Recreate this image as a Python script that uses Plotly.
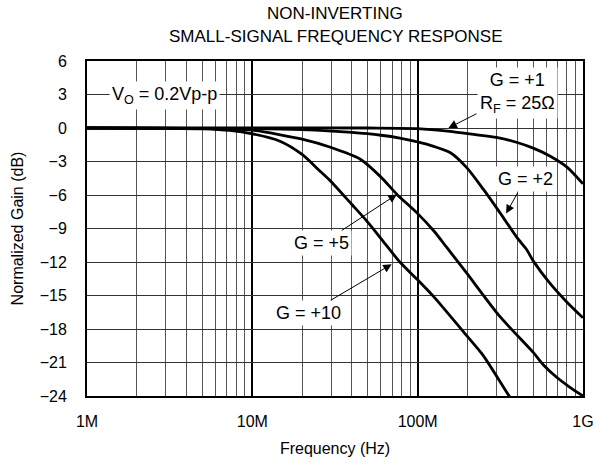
import math
import plotly.graph_objects as go

# ---- data (frequency in MHz, normalized gain in dB) ----
freq_g1_mhz = [1, 10, 50, 100, 157, 200, 315, 400, 500, 630, 800, 1000]
gain_g1_db = [0, 0, 0, -0.05, -0.3, -0.5, -0.9, -1.3, -1.8, -2.5, -3.5, -5.0]

freq_g2_mhz = [1, 10, 20, 40, 60, 78, 100, 125, 157, 198, 250, 315, 398, 457, 500, 630, 800, 1000]
gain_g2_db = [0, -0.05, -0.15, -0.4, -0.65, -0.9, -1.25, -1.65, -2.2, -3.55, -5.5, -7.6, -9.8, -10.9, -11.9, -13.9, -15.6, -17.0]

freq_g5_mhz = [1, 3, 5, 10, 20, 30, 45, 60, 75, 99, 125, 150, 198, 315, 500, 575, 690, 830, 1000]
gain_g5_db = [0, -0.02, -0.05, -0.2, -1.0, -1.75, -2.8, -4.4, -5.95, -7.6, -9.2, -10.7, -13.0, -16.9, -20.1, -21.2, -22.3, -23.2, -24.0]

freq_g10_mhz = [1, 3, 5, 7.3, 10, 14.7, 20, 25.7, 29.8, 40, 49, 60, 78, 100, 125, 198, 250, 354, 400]
gain_g10_db = [0, -0.03, -0.08, -0.22, -0.52, -1.18, -2.37, -3.87, -4.76, -6.85, -8.3, -9.9, -12.0, -13.6, -15.1, -18.6, -20.4, -23.9, -25.0]

x_tick_vals_hz = [1e6, 1e7, 1e8, 1e9]
x_tick_text = ["1M", "10M", "100M", "1G"]
y_range_db = [-24, 6]
y_step_db = 3

title_lines = ["NON-INVERTING", "SMALL-SIGNAL FREQUENCY RESPONSE"]
x_title = "Frequency (Hz)"
y_title = "Normalized Gain (dB)"

FONT = "Liberation Sans, Arial, Helvetica, sans-serif"
W, H = 597, 466
ML, MR, MT, MB = 87, 14, 61, 70
PLOT_H = H - MT - MB

fig = go.Figure()
for f, g in [(freq_g1_mhz, gain_g1_db), (freq_g2_mhz, gain_g2_db),
             (freq_g5_mhz, gain_g5_db), (freq_g10_mhz, gain_g10_db)]:
    fig.add_trace(go.Scatter(
        x=[v * 1e6 for v in f], y=g, mode="lines",
        line=dict(color="black", width=2.8, shape="spline", smoothing=0.7),
        showlegend=False, hoverinfo="skip"))

L = math.log10

def label(x_hz, y_db, text, tip=None):
    kw = dict(showarrow=False)
    if tip is not None:
        tx, ty, ax, ay = tip
        kw = dict(showarrow=True, ax=ax, ay=ay, arrowhead=2, arrowsize=1.7,
                  arrowwidth=1, arrowcolor="black", standoff=0, startstandoff=1)
        x_hz, y_db = tx, ty
    fig.add_annotation(x=L(x_hz), y=y_db, xref="x", yref="y", text=text,
                       bgcolor="white", borderpad=2,
                       font=dict(family=FONT, size=18, color="black"), **kw)

label(10 ** 6.47, 2.9, "V<sub>O</sub> = 0.2Vp-p")
label(None, None, "G = +1<br>R<sub>F</sub> = 25Ω", tip=(10 ** 8.186, 0.0, 69, -35))
label(None, None, "G = +2", tip=(10 ** 8.535, -7.65, 19, -34))
label(None, None, "G = +5", tip=(10 ** 7.874, -5.95, -75, 49))
label(None, None, "G = +10", tip=(10 ** 7.843, -12.2, -83, 49))

# title as two centred lines (paper coords span the plot area)
for line, ypix in zip(title_lines, [13, 37]):
    fig.add_annotation(x=0.5, y=(H - MB - ypix) / PLOT_H, xref="paper", yref="paper",
                       yanchor="middle", xanchor="center", showarrow=False,
                       text=line, font=dict(family=FONT, size=17, color="black"))

fig.update_xaxes(
    type="log", range=[L(x_tick_vals_hz[0]), L(x_tick_vals_hz[-1])],
    tickvals=x_tick_vals_hz, ticktext=x_tick_text,
    showgrid=True, gridcolor="black", gridwidth=2,
    minor=dict(dtick="D1", showgrid=True, gridcolor="#555555", gridwidth=1, ticks=""),
    showline=True, linecolor="black", linewidth=2, mirror=True,
    ticks="outside", ticklen=10, tickcolor="rgba(0,0,0,0)",
    tickfont=dict(family=FONT, size=16, color="black"),
    title=dict(text=x_title, font=dict(family=FONT, size=16, color="black"), standoff=14),
    zeroline=False, automargin=False)

fig.update_yaxes(
    range=y_range_db, dtick=y_step_db, tick0=0,
    showgrid=True, gridcolor="#333333", gridwidth=1,
    showline=True, linecolor="black", linewidth=2, mirror=True,
    ticks="outside", ticklen=15, tickcolor="rgba(0,0,0,0)",
    tickfont=dict(family=FONT, size=16, color="black"),
    title=dict(text=y_title, font=dict(family=FONT, size=16, color="black"), standoff=12),
    zeroline=False, automargin=False)

fig.update_layout(
    width=W, height=H,
    margin=dict(l=ML, r=MR, t=MT, b=MB, autoexpand=False),
    paper_bgcolor="white", plot_bgcolor="white",
)

fig.write_html("out.html", config={"displayModeBar": False},
               post_script="document.body.style.margin='0';document.body.style.overflow='hidden';")
